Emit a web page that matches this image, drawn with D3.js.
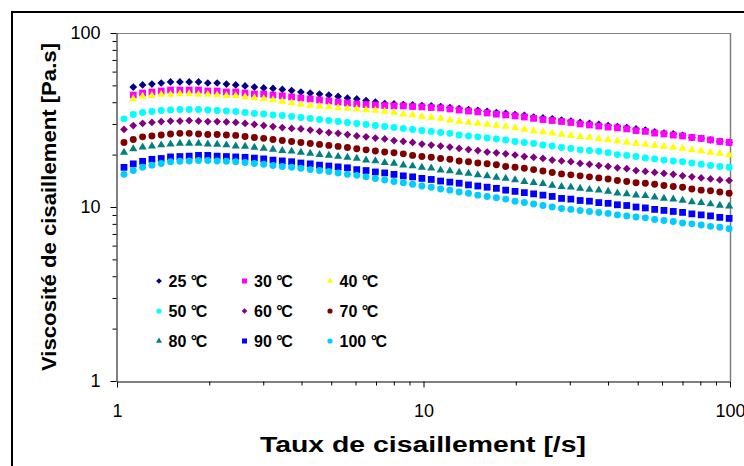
<!DOCTYPE html>
<html>
<head>
<meta charset="utf-8">
<script src="https://cdn.jsdelivr.net/npm/d3@7"></script>
<style>
  html, body { margin: 0; padding: 0; background: #ffffff; }
  svg { display: block; font-family: "Liberation Sans", Arial, sans-serif; }
</style>
</head>
<body>
<svg id="chart" width="744" height="466"></svg>
<script>
// ---------------- DATA ----------------
const shearRate = [1.054,1.130,1.212,1.300,1.394,1.495,1.604,1.720,1.845,1.978,
  2.122,2.275,2.440,2.617,2.807,3.010,3.228,3.462,3.713,3.981,
  4.270,4.579,4.911,5.266,5.648,6.057,6.496,6.966,7.471,8.012,
  8.593,9.213,9.881,10.60,11.37,12.19,13.07,14.02,15.04,16.13,
  17.29,18.54,19.89,21.33,22.87,24.53,26.30,28.21,30.25,32.44,
  34.79,37.32,40.02,42.92,46.03,49.37,52.94,56.78,60.88,65.30,
  70.03,75.10,80.54,86.38,92.64,99.35];

const visc25 = [null,48.9,50.3,50.9,51.6,52.3,52.3,52.3,52.3,51.6,
  51.6,50.9,50.3,49.6,48.9,48.3,48.0,47.4,46.7,45.8,
  45.2,44.6,44.0,43.2,42.3,41.8,40.9,40.1,39.3,39.1,
  38.8,38.6,38.3,38.1,37.8,37.3,36.8,36.3,35.9,35.4,
  34.9,34.5,34.0,33.6,32.9,32.5,32.1,31.6,31.2,30.6,
  30.2,29.8,29.4,29.0,28.6,28.1,27.7,27.0,26.6,26.3,
  25.8,25.1,24.8,24.3,23.8,23.5];
const visc30 = [null,44.0,45.2,45.8,46.4,47.0,47.0,47.0,47.0,46.4,
  46.4,45.8,45.8,45.2,44.6,44.6,44.0,43.5,42.9,42.3,
  41.8,41.2,40.7,40.1,39.6,39.1,38.8,38.6,38.3,38.1,
  38.1,37.8,37.6,37.3,37.1,36.6,36.1,35.6,35.2,34.7,
  34.2,33.8,33.4,32.9,32.3,31.8,31.4,31.0,30.6,30.0,
  29.6,29.2,28.8,28.5,28.1,27.5,27.2,26.6,26.3,25.9,
  25.6,25.1,24.8,24.3,23.8,23.5];
const visc40 = [null,41.8,43.2,43.7,44.3,44.3,44.6,44.6,44.3,44.3,
  44.0,43.7,43.5,42.9,42.3,41.8,41.2,40.4,39.6,38.8,
  38.3,37.8,37.6,37.1,36.8,36.6,36.1,35.9,35.4,34.9,
  34.2,33.8,33.1,32.7,32.3,31.6,31.0,30.6,30.2,29.8,
  29.4,29.0,28.5,27.9,27.4,27.0,26.6,26.1,25.8,25.4,
  25.1,24.6,24.3,24.0,23.5,23.2,22.9,22.6,22.3,22.0,
  21.7,21.3,21.0,20.6,20.3,19.9];
const visc50 = [32.1,34.0,34.9,35.4,35.9,36.1,36.3,36.3,36.3,36.1,
  35.9,35.6,35.4,34.9,34.5,34.2,33.8,33.6,33.1,32.7,
  32.3,31.8,31.4,31.0,30.6,30.2,29.8,29.4,29.0,28.6,
  28.3,27.9,27.5,27.2,26.8,26.5,25.9,25.6,25.3,24.9,
  24.6,24.3,23.8,23.5,23.2,22.7,22.4,22.0,21.7,21.3,
  21.1,20.9,20.5,20.0,19.8,19.5,19.1,18.9,18.6,18.4,
  18.2,17.9,17.6,17.3,17.1,16.9];
const visc60 = [27.9,29.4,30.2,30.6,31.0,31.2,31.2,31.4,31.2,31.0,
  31.0,30.8,30.6,30.2,29.8,29.4,29.0,28.6,28.3,28.1,
  27.7,27.2,26.8,26.5,26.1,25.6,25.3,24.9,24.6,24.1,
  23.8,23.5,23.0,22.7,22.4,22.1,21.7,21.4,21.1,20.7,
  20.5,20.2,19.9,19.5,19.3,19.0,18.6,18.4,18.2,17.8,
  17.6,17.3,17.1,16.8,16.6,16.2,16.0,15.8,15.6,15.4,
  15.1,14.9,14.7,14.5,14.3,14.2];
const visc70 = [23.5,24.4,25.3,25.6,25.9,26.3,26.5,26.5,26.3,26.1,
  26.1,25.9,25.8,25.4,25.1,24.8,24.4,24.1,23.8,23.5,
  23.2,22.9,22.6,22.3,22.0,21.6,21.3,21.0,20.7,20.5,
  20.2,19.8,19.5,19.3,19.0,18.8,18.4,18.2,17.9,17.7,
  17.5,17.1,16.9,16.7,16.4,16.1,15.8,15.5,15.3,15.1,
  14.9,14.7,14.5,14.2,14.0,13.8,13.7,13.5,13.3,13.1,
  13.0,12.7,12.5,12.4,12.2,12.0];
const visc80 = [20.6,21.6,22.1,22.4,22.7,23.0,23.2,23.2,23.2,23.0,
  22.9,22.7,22.4,22.3,22.0,21.7,21.4,21.1,20.9,20.6,
  20.3,20.0,19.8,19.5,19.3,19.0,18.6,18.4,18.0,17.8,
  17.4,17.2,16.9,16.7,16.3,16.1,15.8,15.6,15.3,15.1,
  14.8,14.6,14.3,14.0,13.8,13.6,13.3,13.1,13.0,12.8,
  12.6,12.5,12.3,12.0,11.9,11.7,11.6,11.4,11.2,11.1,
  10.9,10.7,10.6,10.4,10.2,10.1];
const visc90 = [16.9,17.7,18.3,18.8,19.0,19.4,19.5,19.6,19.8,19.8,
  19.6,19.5,19.4,19.3,19.1,18.9,18.6,18.4,18.2,17.9,
  17.7,17.4,17.2,17.0,16.8,16.4,16.2,15.9,15.7,15.4,
  15.1,14.9,14.6,14.4,14.1,13.9,13.7,13.4,13.2,13.0,
  12.8,12.5,12.3,12.1,11.9,11.7,11.5,11.2,11.1,10.9,
  10.8,10.6,10.5,10.3,10.2,10.0,9.88,9.69,9.56,9.43,
  9.31,9.13,9.01,8.89,8.72,8.60];
const visc100 = [15.4,16.2,16.9,17.4,17.8,18.2,18.3,18.4,18.5,18.5,
  18.4,18.3,18.2,18.0,17.8,17.6,17.3,17.1,16.9,16.7,
  16.4,16.2,16.0,15.7,15.4,15.2,14.9,14.6,14.3,14.0,
  13.8,13.5,13.2,13.0,12.7,12.5,12.2,12.0,11.7,11.5,
  11.3,11.1,10.8,10.6,10.4,10.2,10.0,9.81,9.69,9.56,
  9.43,9.31,9.19,9.01,8.89,8.77,8.66,8.48,8.37,8.26,
  8.10,8.00,7.89,7.74,7.64,7.49];

const seriesLabels = ["25 °C","30 °C","40 °C","50 °C","60 °C","70 °C","80 °C","90 °C","100 °C"];
const seriesValues = [visc25, visc30, visc40, visc50, visc60, visc70, visc80, visc90, visc100];
const seriesColors = ["#000080","#FF00FF","#FFFF00","#00FFFF","#800080","#800000","#008080","#0000FF","#00CCFF"];
const seriesShapes = ["diamond","square","triangle","circle","diamond","circle","triangle","square","circle"];

const xMajorTicks = [1, 10, 100];
const yMajorTicks = [1, 10, 100];
const xTitle = "Taux de cisaillement [/s]";
const yTitle = "Viscosité de cisaillement [Pa.s]";

// ---------------- LAYOUT ----------------
const svg = d3.select("#chart");
const L = 117, R = 730, T = 33, B = 381;
const x = d3.scaleLog().domain([1, 100]).range([L, R]);
const y = d3.scaleLog().domain([1, 100]).range([B, T]);

svg.append("rect").attr("width", 744).attr("height", 466).attr("fill", "#fff");
svg.append("rect").attr("x", 12).attr("y", 12).attr("width", 760).attr("height", 480)
  .attr("fill", "none").attr("stroke", "#000").attr("stroke-width", 2);

svg.append("line").attr("x1", L).attr("x2", R).attr("y1", T + 0.5).attr("y2", T + 0.5)
  .attr("stroke", "#808080").attr("stroke-width", 1);
svg.append("line").attr("x1", R + 0.5).attr("x2", R + 0.5).attr("y1", T).attr("y2", B)
  .attr("stroke", "#808080").attr("stroke-width", 1.5);

const minor = [];
[1, 10].forEach(d => { for (let k = 2; k <= 9; k++) minor.push(d * k); });

const tickFont = "'Liberation Sans', Arial, sans-serif";

// X axis
const gx = svg.append("g").attr("transform", `translate(0,${B + 0.5})`);
gx.call(d3.axisBottom(x).tickValues(minor).tickSize(4).tickSizeOuter(0).tickFormat(""));
gx.call(g => g.select(".domain").remove());
const gx2 = svg.append("g").attr("transform", `translate(0,${B + 0.5})`);
gx2.call(d3.axisBottom(x).tickValues(xMajorTicks).tickSize(6).tickSizeOuter(0)
  .tickPadding(17).tickFormat(d3.format("d")));
gx2.select(".domain").attr("stroke", "#000");
gx2.selectAll("text").attr("font-size", 18).attr("fill", "#000").attr("font-family", tickFont);

// Y axis
const gy = svg.append("g").attr("transform", `translate(${L - 0.5},0)`);
gy.call(d3.axisLeft(y).tickValues(minor).tickSize(4).tickSizeOuter(0).tickFormat(""));
gy.call(g => g.select(".domain").remove());
const gy2 = svg.append("g").attr("transform", `translate(${L - 0.5},0)`);
gy2.call(d3.axisLeft(y).tickValues(yMajorTicks).tickSize(6).tickSizeOuter(0)
  .tickPadding(10).tickFormat(d3.format("d")));
gy2.selectAll("text").attr("font-size", 18).attr("fill", "#000").attr("font-family", tickFont);

// Titles
svg.append("text").attr("x", 423).attr("y", 452).attr("text-anchor", "middle")
  .attr("font-size", 22).attr("font-weight", "bold")
  .attr("textLength", 326).attr("lengthAdjust", "spacingAndGlyphs").text(xTitle);
svg.append("text").attr("transform", "translate(56,207) rotate(-90)")
  .attr("text-anchor", "middle").attr("font-size", 20).attr("font-weight", "bold")
  .attr("textLength", 328).attr("lengthAdjust", "spacingAndGlyphs").text(yTitle);

function symbolPath(shape, scale) {
  const s = scale || 1;
  if (shape === "diamond") return { d: d3.symbol(d3.symbolSquare, 30 * s)(), rot: 45 };
  if (shape === "square") return { d: d3.symbol(d3.symbolSquare, 46 * s)(), rot: 0 };
  if (shape === "triangle") return { d: d3.symbol(d3.symbolTriangle, 28 * s)(), rot: 0 };
  return { d: d3.symbol(d3.symbolCircle, 38 * s)(), rot: 0 };
}

seriesValues.forEach((vals, si) => {
  const sp = symbolPath(seriesShapes[si], 1);
  const pts = shearRate.map((r, i) => ({ r, v: vals[i] })).filter(p => p.v != null);
  svg.append("g").selectAll("path").data(pts).join("path")
    .attr("d", sp.d)
    .attr("transform", p => `translate(${x(p.r)},${y(p.v)}) rotate(${sp.rot})`)
    .attr("fill", seriesColors[si]);
});

// legend
const legX = [159, 244.5, 330];
const legY = [281, 311, 341];
seriesLabels.forEach((lab, si) => {
  const cx = legX[si % 3], cy = legY[Math.floor(si / 3)];
  const sp = symbolPath(seriesShapes[si], 0.55);
  svg.append("path").attr("d", sp.d)
    .attr("transform", `translate(${cx},${cy}) rotate(${sp.rot})`)
    .attr("fill", seriesColors[si]);
  const parts = lab.split("°");
  const t = svg.append("text").attr("x", cx + 9.5).attr("y", cy + 6)
    .attr("font-size", 16).attr("font-weight", "bold").attr("fill", "#000");
  t.append("tspan").text(parts[0]);
  t.append("tspan").attr("letter-spacing", -1.5).text("°");
  t.append("tspan").text(parts[1]);
});
</script>
</body>
</html>
